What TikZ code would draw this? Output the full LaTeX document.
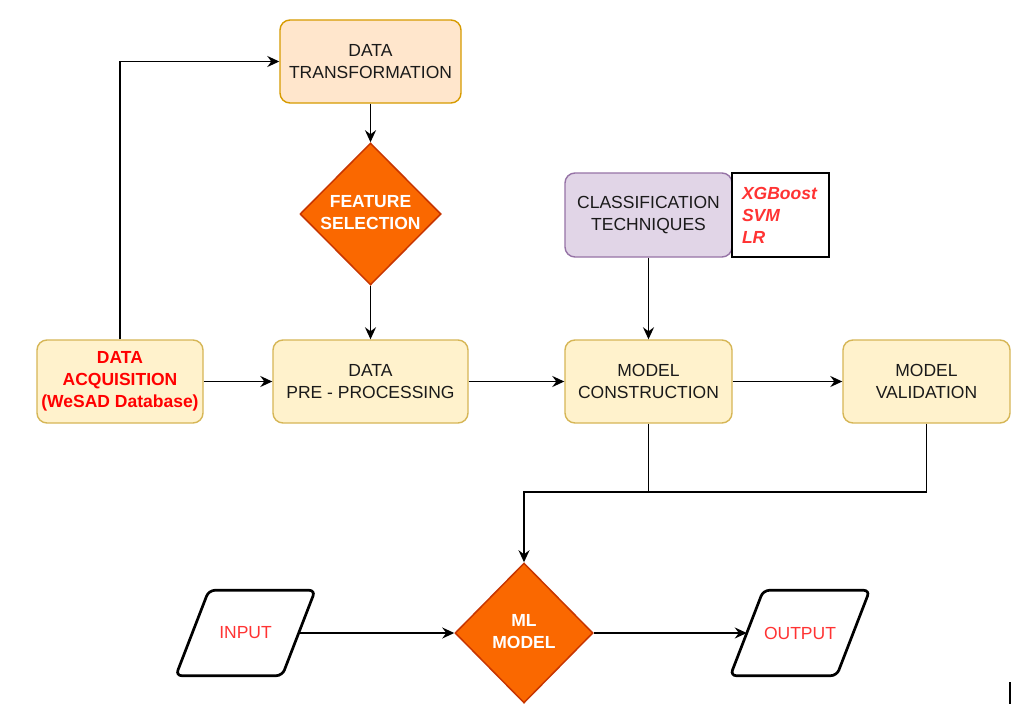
\documentclass[tikz,border=0pt]{standalone}
\usepackage{fontspec}
\setmainfont{Liberation Sans}
\usetikzlibrary{shapes.geometric,arrows.meta,calc}
\definecolor{orfill}{HTML}{FFE6CC}
\definecolor{ordraw}{HTML}{D79B00}
\definecolor{yefill}{HTML}{FFF2CC}
\definecolor{yedraw}{HTML}{D6B656}
\definecolor{pufill}{HTML}{E1D5E7}
\definecolor{pudraw}{HTML}{9673A6}
\definecolor{dfill}{HTML}{FA6800}
\definecolor{ddraw}{HTML}{C73500}
\definecolor{txtred}{HTML}{FF3333}
\definecolor{txtdark}{HTML}{1A1A1A}
\begin{document}
\begin{tikzpicture}[x=1pt,y=-1pt,
 every node/.style={font=\fontsize{17.5}{22}\selectfont, align=center, inner sep=0pt},
 box/.style={draw, rounded corners=10pt, line width=1.4pt, text=txtdark},
 yebox/.style={box, fill=yefill, draw=yedraw},
 dia/.style={diamond, fill=dfill, draw=ddraw, line width=1.5pt, text=white, font=\fontsize{17.5}{22}\selectfont\bfseries},
 arr/.style={line width=1.7pt, -{Stealth[length=12pt,width=11pt,inset=4pt]}},
 ln/.style={line width=1.7pt},
 para/.style={minimum width=106pt, minimum height=85pt, text=txtred},
 parashape/.style={rounded corners=6pt, line width=2.7pt},
]
\useasboundingbox (0,0) rectangle (1012,725);
\fill[white] (0,0) rectangle (1012,725);

\node[box, fill=orfill, draw=ordraw, minimum width=181pt, minimum height=83pt] (trans) at (370.5,61.5) {DATA\\TRANSFORMATION};
\node[dia, minimum width=141pt, minimum height=142pt] (fs) at (370.5,214) {\makebox[0pt]{\begin{tabular}{@{}c@{}}FEATURE\\SELECTION\end{tabular}}};
\node[yebox, minimum width=166pt, minimum height=83pt, text=red, font=\fontsize{17.5}{22}\selectfont\bfseries] (acq) at (120,381.5) {DATA\\ACQUISITION\\(WeSAD Database)};
\node[yebox, minimum width=195pt, minimum height=83pt] (pre) at (370.5,381.5) {DATA\\PRE - PROCESSING};
\node[box, fill=pufill, draw=pudraw, minimum width=167pt, minimum height=84pt] (cls) at (648.5,215) {CLASSIFICATION\\TECHNIQUES};
\node[draw, line width=1.1pt, fill=white, minimum width=97pt, minimum height=84pt, inner xsep=10pt, text width=77pt, align=left, text=txtred, font=\fontsize{17.5}{22}\selectfont\bfseries\itshape] (side) at (780.5,215) {XGBoost\\SVM\\LR};
\node[yebox, minimum width=167pt, minimum height=83pt] (mc) at (648.5,381.5) {MODEL\\CONSTRUCTION};
\node[yebox, minimum width=167pt, minimum height=83pt] (mv) at (926.5,381.5) {MODEL\\VALIDATION};
\node[dia, minimum width=138pt, minimum height=140pt] (ml) at (524,633) {\makebox[0pt]{\begin{tabular}{@{}c@{}}ML\\MODEL\end{tabular}}};
\node[para] (inp) at (245.5,633) {INPUT};
\node[para] (out) at (800,633) {OUTPUT};

\draw[parashape] ($(inp.north west)+(16.5pt,0)$) -- ($(inp.north east)+(16.5pt,0)$) -- ($(inp.south east)+(-16.5pt,0)$) -- ($(inp.south west)+(-16.5pt,0)$) -- cycle;
\draw[parashape] ($(out.north west)+(16.5pt,0)$) -- ($(out.north east)+(16.5pt,0)$) -- ($(out.south east)+(-16.5pt,0)$) -- ($(out.south west)+(-16.5pt,0)$) -- cycle;

\coordinate (jn) at (524,492);
\coordinate (mk1) at (1010,682);
\coordinate (mk2) at (1010,704);

\draw[arr] (acq.north) |- (trans.west);
\draw[arr] (trans.south) -- (fs.north);
\draw[arr] (fs.south) -- (pre.north);
\draw[arr] (acq.east) -- (pre.west);
\draw[arr] (pre.east) -- (mc.west);
\draw[arr] (cls.south) -- (mc.north);
\draw[arr] (mc.east) -- (mv.west);
\draw[arr] (mv.south) |- (jn) -- (ml.north);
\draw[ln] (mc.south) -- (mc.south |- jn);
\draw[arr] (inp.east) -- (ml.west);
\draw[arr] (ml.east) -- (out.west);
\draw[line width=2pt] (mk1) -- (mk2);
\end{tikzpicture}
\end{document}
